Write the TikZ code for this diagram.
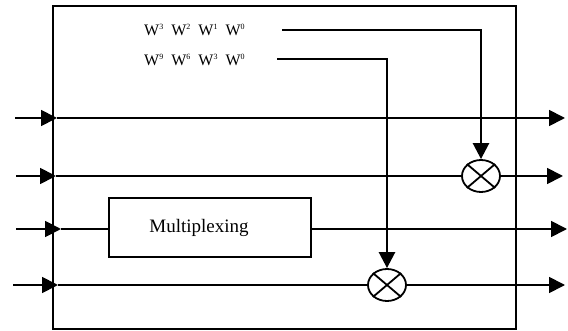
\documentclass[tikz,border=0pt]{standalone}
\usepackage{fontspec}
\setmainfont{Liberation Serif}
\usetikzlibrary{arrows.meta,shapes.geometric}
\newcommand{\Wsup}[1]{W\raisebox{6pt}{\fontsize{8}{8}\selectfont #1}}
\begin{document}
\begin{tikzpicture}[x=1pt,y=-1pt,
  line/.style={line width=1.8pt},
  conn/.style={line width=2.6pt},
  tip/.style={-{Triangle[length=16pt,width=16pt]}},
  mult/.style={ellipse,draw,line width=1.8pt,minimum width=38pt,minimum height=32pt,inner sep=0pt},
  wtext/.style={font=\fontsize{16}{18}\selectfont,anchor=west,inner sep=0pt},
  muxbox/.style={draw,line width=1.8pt,minimum width=202pt,minimum height=59pt,inner sep=0pt,font=\fontsize{19}{22}\selectfont}]
\useasboundingbox (0,0) rectangle (568,331);
\node[draw,line width=1.8pt,minimum width=463pt,minimum height=323pt,inner sep=0pt] (frame) at (284.5,167.5) {};
% texts
\node[wtext] (t1) at (144,30) {\Wsup{3}\hspace{8pt}\Wsup{2}\hspace{8pt}\Wsup{1}\hspace{8pt}\Wsup{0}};
\node[wtext] (t2) at (144,60) {\Wsup{9}\hspace{8pt}\Wsup{6}\hspace{8pt}\Wsup{3}\hspace{8pt}\Wsup{0}};
% multipliers and mux
\node[mult] (m1) at (481,176) {};
\node[mult] (m2) at (387,285) {};
\draw[line] (m1.north west) -- (m1.south east) (m1.north east) -- (m1.south west);
\draw[line] (m2.north west) -- (m2.south east) (m2.north east) -- (m2.south west);
\node[muxbox] (mux) at (210,227.5) {Multiplexing\kern22pt};
% line 1
\coordinate (a1) at (15,118); \coordinate (b1) at (57,118); \coordinate (e1) at (565,118);
\draw[line,tip] (a1) -- (b1);
\draw[line,tip] (b1) -- (e1);
% line 2
\coordinate (a2) at (16,176); \coordinate (b2) at (56,176); \coordinate (e2) at (563,176);
\draw[line,tip] (a2) -- (b2);
\draw[line] (b2) -- (m1);
\draw[line,tip] (m1) -- (e2);
% line 3
\coordinate (a3) at (16,229); \coordinate (b3) at (61,229); \coordinate (e3) at (567,229);
\draw[line,tip] (a3) -- (b3);
\draw[line] (b3) -- (b3 -| mux.west);
\draw[line,tip] (mux.east |- e3) -- (e3);
% line 4
\coordinate (a4) at (13,285); \coordinate (b4) at (58,285); \coordinate (e4) at (565,285);
\draw[line,tip] (a4) -- (b4);
\draw[line] (b4) -- (m2);
\draw[line,tip] (m2) -- (e4);
% connectors
\coordinate (c1) at (282,30);
\coordinate (c2) at (277,59);
\draw[conn,tip] (c1) -| (m1);
\draw[conn,tip] (c2) -| (m2);
\end{tikzpicture}
\end{document}
